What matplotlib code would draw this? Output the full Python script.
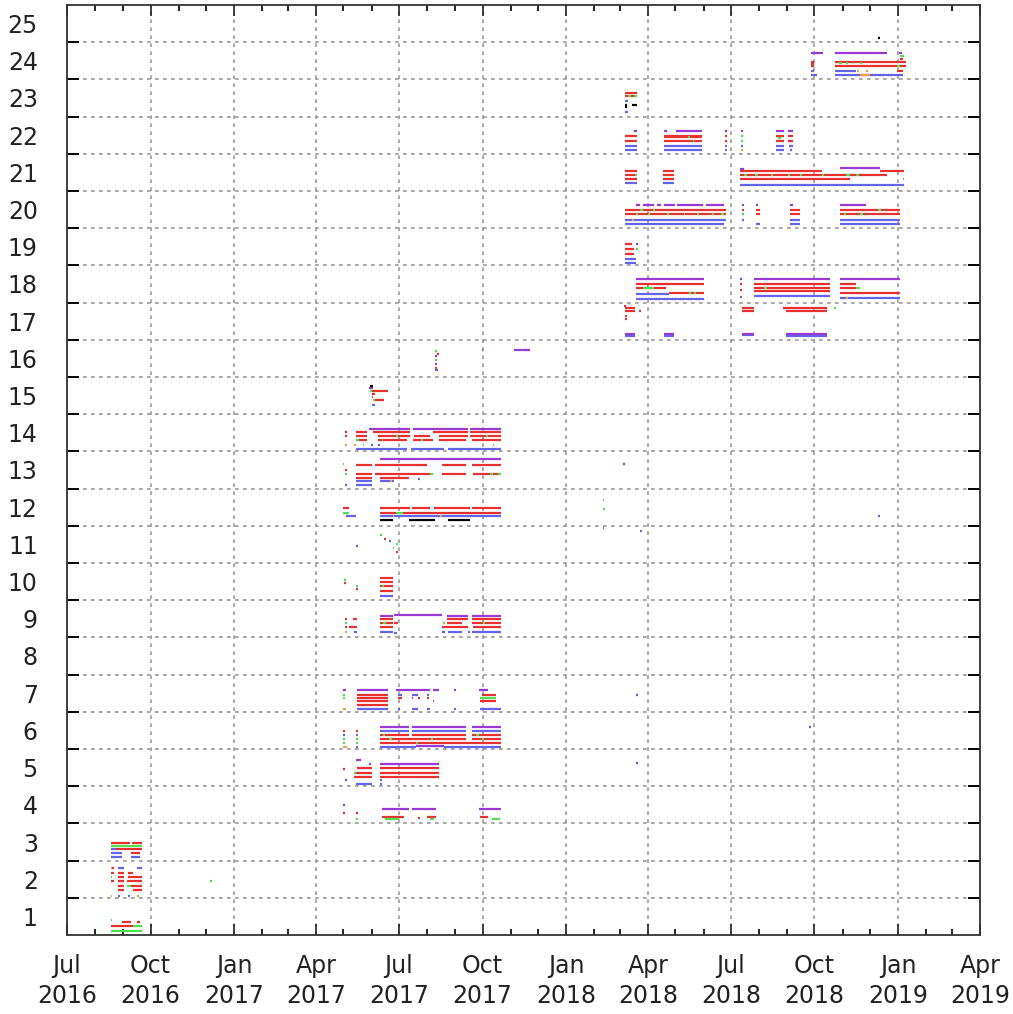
#!/usr/bin/env python3
"""Activity timeline: one band per channel (1-25), coloured runs over time."""

import matplotlib

matplotlib.use("Agg")
import matplotlib.dates as mdates
import matplotlib.pyplot as plt
import numpy as np
import pandas as pd

_RED = "#e8302f"
_GREEN = "#4fe04f"
_BLUE = "#6464ea"
_PURPLE = "#9a3ad6"
_ORANGE = "#f0a040"
_BLACK = "#000000"
_GRID = "#9a9a9a"

# (level, start, end) runs per colour
PURPLE_RUNS = [
    (3.99, "2017-05-01", "2017-05-03"), (3.88, "2017-06-12", "2017-07-12"),
    (3.88, "2017-07-15", "2017-08-11"), (3.88, "2017-09-27", "2017-10-21"),
    (5.20, "2017-05-15", "2017-05-20"), (5.09, "2017-05-29", "2017-05-31"),
    (5.09, "2017-06-10", "2017-08-14"),
    (6.10, "2017-06-10", "2017-07-12"), (6.10, "2017-07-15", "2017-09-13"),
    (6.10, "2017-09-19", "2017-10-21"), (5.58, "2017-07-20", "2017-08-20"),
    (7.08, "2017-04-30", "2017-05-04"), (7.08, "2017-05-16", "2017-06-19"),
    (7.08, "2017-06-28", "2017-08-04"), (7.08, "2017-08-07", "2017-08-14"),
    (7.08, "2017-08-31", "2017-09-02"), (7.08, "2017-09-27", "2017-10-07"),
    (6.95, "2018-03-19", "2018-03-21"), (5.12, "2018-03-19", "2018-03-21"),
    (6.10, "2018-09-25", "2018-09-27"),
    (9.08, "2017-06-10", "2017-06-24"), (9.10, "2017-06-26", "2017-08-17"),
    (9.08, "2017-08-23", "2017-09-15"), (9.08, "2017-09-19", "2017-10-21"),
    (13.30, "2017-06-10", "2017-10-21"),
    (14.10, "2017-05-29", "2017-07-13"), (14.10, "2017-07-16", "2017-09-15"),
    (14.10, "2017-09-17", "2017-10-21"),
    (15.20, "2017-05-29", "2017-06-03"),
    (16.07, "2017-08-10", "2017-08-12"), (15.85, "2017-08-10", "2017-08-12"),
    (16.22, "2017-09-30", "2017-10-02"), (16.22, "2017-11-05", "2017-11-12"),
    (16.22, "2017-11-15", "2017-11-22"),
    (16.66, "2018-03-07", "2018-03-18"), (16.66, "2018-04-18", "2018-04-30"),
    (16.66, "2018-07-13", "2018-07-27"), (16.66, "2018-08-31", "2018-10-15"),
    (18.14, "2018-03-19", "2018-06-02"), (18.14, "2018-07-11", "2018-07-13"),
    (18.14, "2018-07-27", "2018-10-18"), (18.14, "2018-10-29", "2019-01-03"),
    (19.08, "2018-03-19", "2018-03-21"),
    (20.11, "2018-03-19", "2018-03-23"), (20.11, "2018-03-26", "2018-04-08"),
    (20.11, "2018-04-11", "2018-04-15"), (20.11, "2018-04-19", "2018-05-01"),
    (20.11, "2018-05-03", "2018-05-31"), (20.11, "2018-06-04", "2018-06-24"),
    (20.11, "2018-07-13", "2018-07-15"), (20.11, "2018-07-29", "2018-07-31"),
    (20.11, "2018-09-04", "2018-09-07"), (20.11, "2018-10-29", "2018-11-27"),
    (21.10, "2018-07-11", "2018-07-16"), (21.12, "2018-10-29", "2018-12-12"),
    (22.12, "2018-03-17", "2018-03-20"), (22.12, "2018-04-18", "2018-04-22"),
    (22.12, "2018-05-02", "2018-05-30"), (22.12, "2018-06-25", "2018-06-27"),
    (22.12, "2018-07-12", "2018-07-14"), (22.12, "2018-08-20", "2018-08-29"),
    (22.12, "2018-09-02", "2018-09-07"),
    (24.20, "2018-09-27", "2018-10-10"), (24.20, "2018-10-24", "2018-12-20"),
    (24.20, "2019-01-02", "2019-01-05"),
]

RED_RUNS = [
    (0.84, "2016-08-31", "2016-09-09"), (0.84, "2016-09-16", "2016-09-19"),
    (0.74, "2016-08-18", "2016-09-12"),
    (2.30, "2016-08-20", "2016-08-22"),
    (2.16, "2016-08-18", "2016-08-22"), (2.16, "2016-08-26", "2016-09-02"),
    (2.16, "2016-09-06", "2016-09-12"),
    (2.06, "2016-08-26", "2016-09-02"), (2.06, "2016-09-06", "2016-09-22"),
    (1.95, "2016-08-18", "2016-08-22"), (1.95, "2016-08-26", "2016-09-02"),
    (1.95, "2016-09-05", "2016-09-22"),
    (1.82, "2016-08-26", "2016-09-02"), (1.82, "2016-09-09", "2016-09-22"),
    (1.71, "2016-08-26", "2016-09-02"), (1.71, "2016-09-12", "2016-09-22"),
    (2.98, "2016-08-18", "2016-09-08"), (2.98, "2016-09-11", "2016-09-22"),
    (2.81, "2016-08-24", "2016-09-22"), (2.71, "2016-09-09", "2016-09-19"),
    (3.77, "2017-05-01", "2017-05-03"), (3.77, "2017-05-15", "2017-05-17"),
    (3.67, "2017-06-12", "2017-07-07"), (3.65, "2017-07-22", "2017-07-24"),
    (3.67, "2017-08-01", "2017-08-11"), (3.67, "2017-09-28", "2017-10-07"),
    (4.95, "2017-05-01", "2017-05-03"),
    (4.98, "2017-05-16", "2017-06-01"), (4.98, "2017-06-10", "2017-08-14"),
    (4.85, "2017-05-13", "2017-06-01"), (4.85, "2017-06-10", "2017-08-14"),
    (4.76, "2017-05-13", "2017-06-01"), (4.76, "2017-06-10", "2017-08-14"),
    (5.98, "2017-05-01", "2017-05-03"), (5.98, "2017-05-15", "2017-05-17"),
    (5.88, "2017-06-10", "2017-07-12"), (5.88, "2017-07-15", "2017-09-13"),
    (5.88, "2017-09-19", "2017-10-21"),
    (5.77, "2017-06-10", "2017-09-13"), (5.77, "2017-09-19", "2017-10-21"),
    (5.66, "2017-06-10", "2017-10-21"),
    (6.95, "2017-05-16", "2017-06-19"), (6.87, "2017-05-16", "2017-06-19"),
    (6.79, "2017-05-16", "2017-06-19"), (6.68, "2017-05-16", "2017-06-19"),
    (6.87, "2017-06-30", "2017-07-04"), (6.87, "2017-07-15", "2017-07-17"),
    (6.87, "2017-07-22", "2017-07-24"), (6.87, "2017-08-01", "2017-08-03"),
    (6.79, "2017-08-07", "2017-08-09"),
    (6.95, "2017-09-30", "2017-10-16"), (6.79, "2017-09-28", "2017-10-16"),
    (9.00, "2017-05-03", "2017-05-05"), (9.00, "2017-05-11", "2017-05-16"),
    (9.00, "2017-06-10", "2017-06-24"), (9.00, "2017-08-23", "2017-09-15"),
    (9.00, "2017-09-19", "2017-10-21"),
    (8.90, "2017-06-10", "2017-06-24"), (8.90, "2017-06-26", "2017-06-30"),
    (8.90, "2017-08-23", "2017-09-08"), (8.90, "2017-09-19", "2017-10-21"),
    (8.78, "2017-05-03", "2017-05-05"), (8.78, "2017-05-07", "2017-05-16"),
    (8.78, "2017-06-10", "2017-06-24"), (8.78, "2017-08-17", "2017-09-15"),
    (8.78, "2017-09-21", "2017-10-21"),
    (9.95, "2017-05-02", "2017-05-04"), (9.80, "2017-05-15", "2017-05-17"),
    (10.10, "2017-06-10", "2017-06-24"), (9.98, "2017-06-10", "2017-06-24"),
    (9.88, "2017-06-10", "2017-06-24"), (9.75, "2017-06-10", "2017-06-24"),
    (11.15, "2017-06-15", "2017-06-17"), (10.80, "2017-06-28", "2017-06-30"),
    (11.45, "2018-02-10", "2018-02-12"),
    (11.98, "2017-04-30", "2017-05-07"), (11.98, "2017-06-10", "2017-07-13"),
    (11.98, "2017-07-15", "2017-08-04"), (11.98, "2017-08-09", "2017-09-17"),
    (11.98, "2017-09-19", "2017-10-21"),
    (11.85, "2017-06-10", "2017-06-28"), (11.85, "2017-07-05", "2017-10-21"),
    (13.14, "2017-05-15", "2017-06-01"), (13.14, "2017-06-05", "2017-08-01"),
    (13.14, "2017-08-17", "2017-09-13"), (13.14, "2017-09-19", "2017-10-21"),
    (13.00, "2017-05-03", "2017-05-05"),
    (12.90, "2017-05-15", "2017-06-01"), (12.90, "2017-06-05", "2017-08-04"),
    (12.90, "2017-08-17", "2017-09-13"), (12.90, "2017-09-21", "2017-10-21"),
    (12.79, "2017-05-15", "2017-06-01"), (12.79, "2017-06-10", "2017-07-12"),
    (13.15, "2018-03-05", "2018-03-07"),
    (14.03, "2017-05-03", "2017-05-05"), (14.03, "2017-05-15", "2017-05-27"),
    (14.03, "2017-06-02", "2017-07-13"), (14.03, "2017-08-07", "2017-09-15"),
    (14.03, "2017-09-17", "2017-10-21"),
    (13.92, "2017-05-03", "2017-05-05"), (13.92, "2017-05-15", "2017-05-27"),
    (13.92, "2017-06-08", "2017-07-13"), (13.92, "2017-07-18", "2017-08-04"),
    (13.92, "2017-08-14", "2017-09-15"), (13.92, "2017-09-17", "2017-10-21"),
    (13.81, "2017-05-15", "2017-05-27"), (13.81, "2017-06-08", "2017-07-10"),
    (13.81, "2017-07-16", "2017-08-07"), (13.81, "2017-08-14", "2017-09-13"),
    (13.81, "2017-09-19", "2017-10-21"),
    (15.13, "2017-06-01", "2017-06-19"), (15.05, "2017-06-01", "2017-06-05"),
    (14.95, "2017-06-01", "2017-06-03"), (14.87, "2017-06-05", "2017-06-15"),
    (16.12, "2017-08-12", "2017-08-14"), (15.75, "2017-08-10", "2017-08-12"),
    (17.42, "2018-03-06", "2018-03-08"), (17.35, "2018-03-07", "2018-03-18"),
    (17.28, "2018-03-07", "2018-03-18"), (17.15, "2018-03-07", "2018-03-09"),
    (17.05, "2018-03-07", "2018-03-09"), (17.28, "2018-03-22", "2018-03-24"),
    (17.35, "2018-07-13", "2018-07-27"), (17.28, "2018-07-13", "2018-07-27"),
    (17.35, "2018-08-27", "2018-10-15"), (17.28, "2018-08-31", "2018-10-15"),
    (18.01, "2018-03-19", "2018-06-02"), (17.90, "2018-03-19", "2018-04-21"),
    (17.77, "2018-04-24", "2018-06-02"),
    (18.00, "2018-07-11", "2018-07-13"), (17.85, "2018-07-11", "2018-07-13"),
    (18.01, "2018-07-27", "2018-10-18"), (17.90, "2018-07-27", "2018-10-18"),
    (17.80, "2018-07-27", "2018-10-18"),
    (18.01, "2018-10-29", "2018-11-16"), (17.90, "2018-10-29", "2018-11-16"),
    (17.77, "2018-10-29", "2019-01-03"),
    (19.08, "2018-03-07", "2018-03-14"), (18.95, "2018-03-07", "2018-03-17"),
    (18.81, "2018-03-07", "2018-03-17"),
    (20.00, "2018-03-07", "2018-06-26"), (19.89, "2018-03-07", "2018-06-26"),
    (20.00, "2018-07-13", "2018-07-15"), (19.89, "2018-07-13", "2018-07-15"),
    (20.00, "2018-07-29", "2018-08-02"), (19.89, "2018-07-29", "2018-08-02"),
    (20.00, "2018-09-04", "2018-09-15"), (19.89, "2018-09-04", "2018-09-15"),
    (20.00, "2018-10-29", "2019-01-03"), (19.89, "2018-10-29", "2019-01-03"),
    (21.05, "2018-03-07", "2018-03-20"), (20.94, "2018-03-07", "2018-03-20"),
    (20.81, "2018-03-07", "2018-03-20"),
    (21.05, "2018-04-17", "2018-04-30"), (20.94, "2018-04-17", "2018-04-30"),
    (20.81, "2018-04-17", "2018-04-30"),
    (21.05, "2018-07-11", "2018-10-09"), (21.05, "2018-12-12", "2019-01-08"),
    (20.94, "2018-07-11", "2018-12-20"), (20.81, "2018-07-11", "2018-11-09"),
    (21.99, "2018-03-07", "2018-03-20"), (21.99, "2018-04-18", "2018-05-30"),
    (21.94, "2018-04-18", "2018-05-30"),
    (21.83, "2018-03-07", "2018-03-20"), (21.83, "2018-04-18", "2018-05-30"),
    (21.99, "2018-06-25", "2018-06-27"), (21.83, "2018-06-25", "2018-06-27"),
    (21.99, "2018-08-20", "2018-08-29"), (21.83, "2018-08-20", "2018-08-29"),
    (21.99, "2018-09-02", "2018-09-07"), (21.83, "2018-09-02", "2018-09-07"),
    (23.14, "2018-03-07", "2018-03-20"), (23.04, "2018-03-07", "2018-03-20"),
    (24.05, "2019-01-03", "2019-01-06"),
    (23.98, "2018-09-27", "2018-10-01"), (23.98, "2018-10-24", "2019-01-10"),
    (23.92, "2018-09-27", "2018-10-01"),
    (23.85, "2018-09-27", "2018-10-01"), (23.85, "2018-10-24", "2019-01-10"),
    (23.72, "2018-12-31", "2019-01-06"),
]

GREEN_RUNS = [
    (0.90, "2016-08-18", "2016-08-20"), (0.74, "2016-09-12", "2016-09-22"),
    (0.61, "2016-08-18", "2016-09-22"),
    (2.06, "2016-08-18", "2016-08-20"), (1.82, "2016-09-05", "2016-09-09"),
    (1.95, "2016-12-05", "2016-12-07"),
    (2.89, "2016-08-18", "2016-09-22"),
    (3.63, "2017-05-15", "2017-05-17"), (3.63, "2017-06-16", "2017-07-01"),
    (3.63, "2017-08-04", "2017-08-09"), (3.63, "2017-10-11", "2017-10-20"),
    (4.85, "2017-05-13", "2017-05-15"),
    (5.77, "2017-05-01", "2017-05-03"), (5.77, "2017-05-15", "2017-05-17"),
    (5.66, "2017-05-01", "2017-05-03"), (5.66, "2017-05-15", "2017-05-17"),
    (5.77, "2017-06-20", "2017-06-23"), (5.77, "2017-08-05", "2017-08-08"),
    (5.88, "2017-06-14", "2017-06-16"), (5.88, "2017-09-24", "2017-09-27"),
    (5.66, "2017-07-20", "2017-07-22"), (5.77, "2017-09-30", "2017-10-03"),
    (6.95, "2017-05-01", "2017-05-03"), (6.87, "2017-05-01", "2017-05-03"),
    (6.87, "2017-09-28", "2017-10-16"),
    (8.90, "2017-05-03", "2017-05-05"), (8.90, "2017-08-19", "2017-08-21"),
    (8.90, "2017-10-01", "2017-10-04"), (8.90, "2017-06-14", "2017-06-17"),
    (10.05, "2017-05-02", "2017-05-04"), (9.89, "2017-05-15", "2017-05-17"),
    (9.88, "2017-06-12", "2017-06-15"),
    (11.25, "2017-06-10", "2017-06-12"), (10.90, "2017-06-24", "2017-06-26"),
    (11.00, "2017-06-28", "2017-06-30"),
    (12.20, "2018-02-10", "2018-02-12"), (11.95, "2018-02-11", "2018-02-13"),
    (11.85, "2017-04-30", "2017-05-07"), (11.85, "2017-06-28", "2017-07-05"),
    (13.17, "2017-04-30", "2017-05-02"),
    (12.90, "2017-05-03", "2017-05-05"), (12.90, "2017-08-04", "2017-08-07"),
    (12.90, "2017-10-09", "2017-10-12"), (12.90, "2017-10-18", "2017-10-21"),
    (13.92, "2017-06-28", "2017-06-30"), (13.92, "2017-10-05", "2017-10-07"),
    (13.81, "2017-05-15", "2017-05-18"), (13.81, "2017-07-25", "2017-07-27"),
    (13.81, "2017-06-12", "2017-06-14"),
    (15.13, "2017-05-30", "2017-06-01"), (14.88, "2017-06-03", "2017-06-05"),
    (16.20, "2017-08-10", "2017-08-12"), (15.95, "2017-08-10", "2017-08-12"),
    (17.35, "2018-10-23", "2018-10-25"),
    (17.90, "2018-03-26", "2018-04-08"), (17.77, "2018-05-16", "2018-05-18"),
    (17.77, "2018-05-22", "2018-05-24"), (17.90, "2018-08-06", "2018-08-10"),
    (17.90, "2018-11-16", "2018-11-20"),
    (18.95, "2018-03-19", "2018-03-21"),
    (19.89, "2018-03-19", "2018-03-21"), (19.89, "2018-04-01", "2018-04-03"),
    (19.89, "2018-04-22", "2018-04-24"), (19.89, "2018-05-10", "2018-05-12"),
    (19.89, "2018-05-25", "2018-05-27"), (19.89, "2018-06-10", "2018-06-12"),
    (19.89, "2018-06-20", "2018-06-23"), (20.00, "2018-03-23", "2018-03-26"),
    (20.00, "2018-04-06", "2018-04-09"), (19.89, "2018-07-13", "2018-07-15"),
    (19.89, "2018-11-02", "2018-11-05"), (19.89, "2018-11-20", "2018-11-23"),
    (20.00, "2018-12-10", "2018-12-13"),
    (20.94, "2018-03-18", "2018-03-20"),
    (20.81, "2019-01-06", "2019-01-08"),
    (20.94, "2018-07-16", "2018-07-19"), (20.94, "2018-07-28", "2018-07-31"),
    (20.94, "2018-08-14", "2018-08-16"), (20.94, "2018-09-02", "2018-09-04"),
    (20.94, "2018-09-15", "2018-09-17"), (20.94, "2018-10-09", "2018-10-12"),
    (20.94, "2018-11-05", "2018-11-09"), (20.94, "2018-11-16", "2018-11-19"),
    (21.96, "2018-05-15", "2018-05-17"), (21.83, "2018-05-20", "2018-05-22"),
    (21.99, "2018-07-12", "2018-07-14"), (21.83, "2018-07-12", "2018-07-14"),
    (21.92, "2018-08-22", "2018-08-25"),
    (23.04, "2018-03-10", "2018-03-13"), (23.04, "2018-03-17", "2018-03-20"),
    (24.14, "2019-01-03", "2019-01-08"),
    (23.95, "2018-10-28", "2018-10-31"), (23.95, "2018-11-05", "2018-11-07"),
    (23.95, "2018-11-12", "2018-11-14"), (23.95, "2018-11-20", "2018-11-22"),
    (23.85, "2018-12-31", "2019-01-03"),
]

BLUE_RUNS = [
    (2.30, "2016-08-26", "2016-09-02"), (2.30, "2016-09-16", "2016-09-22"),
    (1.55, "2016-08-26", "2016-08-28"), (1.55, "2016-09-06", "2016-09-08"),
    (2.81, "2016-08-18", "2016-08-24"),
    (2.71, "2016-08-18", "2016-08-31"),
    (2.59, "2016-08-18", "2016-08-31"), (2.59, "2016-09-09", "2016-09-19"),
    (4.68, "2017-05-03", "2017-05-05"), (4.68, "2017-06-10", "2017-06-12"),
    (4.57, "2017-05-15", "2017-06-01"), (4.57, "2017-06-10", "2017-06-12"),
    (5.98, "2017-06-10", "2017-07-12"), (5.98, "2017-07-15", "2017-09-13"),
    (5.98, "2017-09-19", "2017-10-21"),
    (5.88, "2017-05-01", "2017-05-03"), (5.88, "2017-05-15", "2017-05-17"),
    (5.56, "2017-06-10", "2017-07-20"), (5.56, "2017-08-20", "2017-10-21"),
    (5.56, "2017-05-15", "2017-05-17"),
    (6.95, "2017-06-30", "2017-07-04"), (6.95, "2017-07-15", "2017-07-22"),
    (6.95, "2017-08-01", "2017-08-03"),
    (6.57, "2017-05-16", "2017-06-19"), (6.57, "2017-06-30", "2017-07-02"),
    (6.57, "2017-07-15", "2017-07-22"), (6.57, "2017-08-01", "2017-08-04"),
    (6.57, "2017-08-31", "2017-09-02"), (6.57, "2017-09-28", "2017-10-21"),
    (8.64, "2017-05-13", "2017-05-16"), (8.64, "2017-06-10", "2017-06-24"),
    (8.62, "2017-06-26", "2017-06-29"), (8.64, "2017-08-17", "2017-08-21"),
    (8.64, "2017-08-24", "2017-09-08"), (8.64, "2017-09-15", "2017-09-17"),
    (8.64, "2017-09-19", "2017-10-21"),
    (9.62, "2017-06-10", "2017-06-24"),
    (10.95, "2017-05-15", "2017-05-17"), (11.10, "2017-06-20", "2017-06-22"),
    (11.35, "2018-03-23", "2018-03-25"),
    (11.76, "2017-05-04", "2017-05-15"), (11.76, "2017-06-10", "2017-10-21"),
    (11.75, "2018-12-10", "2018-12-12"),
    (12.71, "2017-05-15", "2017-06-01"), (12.71, "2017-06-10", "2017-06-26"),
    (12.75, "2017-07-22", "2017-07-24"),
    (12.60, "2017-05-03", "2017-05-05"), (12.60, "2017-05-15", "2017-06-01"),
    (13.68, "2017-05-31", "2017-06-02"), (13.68, "2017-06-08", "2017-06-10"),
    (13.57, "2017-05-15", "2017-07-10"), (13.57, "2017-07-14", "2017-08-20"),
    (13.57, "2017-08-24", "2017-10-21"),
    (14.75, "2017-06-01", "2017-06-05"),
    (15.70, "2017-08-10", "2017-08-13"), (16.22, "2017-11-12", "2017-11-15"),
    (16.60, "2018-03-07", "2018-03-18"), (16.60, "2018-04-18", "2018-04-30"),
    (16.62, "2018-07-13", "2018-07-27"), (16.60, "2018-08-31", "2018-10-15"),
    (17.72, "2018-03-19", "2018-04-24"),
    (17.60, "2018-03-19", "2018-06-02"), (17.65, "2018-07-11", "2018-07-13"),
    (17.68, "2018-07-27", "2018-10-18"), (17.62, "2018-10-29", "2019-01-03"),
    (18.68, "2018-03-07", "2018-03-19"), (18.57, "2018-03-07", "2018-03-19"),
    (19.73, "2018-03-07", "2018-06-26"), (19.62, "2018-03-07", "2018-06-24"),
    (19.73, "2018-07-13", "2018-07-15"), (19.62, "2018-07-29", "2018-08-02"),
    (19.73, "2018-09-04", "2018-09-15"), (19.62, "2018-09-04", "2018-09-15"),
    (19.73, "2018-10-29", "2019-01-03"), (19.62, "2018-10-29", "2019-01-03"),
    (20.72, "2018-03-07", "2018-03-20"), (20.72, "2018-04-17", "2018-04-30"),
    (20.67, "2018-07-11", "2019-01-08"),
    (21.70, "2018-03-07", "2018-03-20"), (21.70, "2018-04-18", "2018-05-30"),
    (21.59, "2018-03-07", "2018-03-20"), (21.59, "2018-04-18", "2018-05-30"),
    (21.70, "2018-06-25", "2018-06-27"), (21.70, "2018-07-12", "2018-07-14"),
    (21.70, "2018-08-20", "2018-08-29"), (21.70, "2018-09-03", "2018-09-07"),
    (21.59, "2018-06-25", "2018-06-27"), (21.59, "2018-08-20", "2018-08-29"),
    (21.59, "2018-09-04", "2018-09-06"),
    (22.91, "2018-03-07", "2018-03-10"), (22.62, "2018-03-07", "2018-03-10"),
    (23.72, "2018-09-27", "2018-10-01"), (23.72, "2018-10-24", "2018-11-16"),
    (23.63, "2018-09-27", "2018-10-04"), (23.63, "2018-10-24", "2019-01-06"),
]

ORANGE_RUNS = [
    (2.30, "2016-08-18", "2016-08-20"),
    (1.55, "2016-08-18", "2016-08-20"), (1.55, "2016-09-16", "2016-09-18"),
    (5.56, "2017-05-01", "2017-05-05"), (6.57, "2017-05-01", "2017-05-04"),
    (8.64, "2017-05-03", "2017-05-05"),
    (11.76, "2017-06-24", "2017-06-26"), (11.76, "2017-08-15", "2017-08-17"),
    (12.71, "2017-06-21", "2017-06-23"),
    (13.68, "2017-05-03", "2017-05-05"), (13.68, "2017-05-13", "2017-05-15"),
    (13.68, "2017-05-22", "2017-05-24"), (13.68, "2017-10-12", "2017-10-14"),
    (19.73, "2018-03-14", "2018-03-16"), (21.59, "2018-07-12", "2018-07-14"),
    (17.62, "2018-11-05", "2018-11-07"),
    (23.72, "2018-11-17", "2018-11-19"), (23.72, "2018-11-27", "2018-11-29"),
    (23.63, "2018-11-20", "2018-12-01"),
]

BLACK_RUNS = [
    (11.65, "2017-06-10", "2017-06-24"), (11.65, "2017-07-12", "2017-08-10"),
    (11.65, "2017-08-24", "2017-09-17"),
    (15.25, "2017-05-30", "2017-06-03"),
    (22.80, "2018-03-07", "2018-03-09"), (22.80, "2018-03-14", "2018-03-20"),
    (22.75, "2018-03-07", "2018-03-09"),
    (24.60, "2018-12-10", "2018-12-12"),
]

CHANNELS = list(range(1, 26))
X_RANGE = ("2016-07-01", "2019-04-01")


def draw_runs(ax, runs, color):
    y = [r[0] for r in runs]
    x0 = pd.to_datetime([r[1] for r in runs])
    x1 = pd.to_datetime([r[2] for r in runs])
    ax.hlines(y, x0, x1, colors=color, linewidth=1.6, capstyle="butt")


fig = plt.figure(figsize=(10.13, 10.14), dpi=100)
ax = fig.add_axes([0.0661, 0.0779, 0.9013, 0.9172])

draw_runs(ax, BLUE_RUNS, _BLUE)
draw_runs(ax, RED_RUNS, _RED)
draw_runs(ax, PURPLE_RUNS, _PURPLE)
draw_runs(ax, GREEN_RUNS, _GREEN)
draw_runs(ax, ORANGE_RUNS, _ORANGE)
draw_runs(ax, BLACK_RUNS, _BLACK)

ax.set_xlim(pd.Timestamp(X_RANGE[0]), pd.Timestamp(X_RANGE[1]))
ax.set_ylim(0.5, 25.5)

# x: quarters labelled, months as small ticks
ax.xaxis.set_major_locator(mdates.MonthLocator(bymonth=[1, 4, 7, 10]))
ax.xaxis.set_minor_locator(mdates.MonthLocator())
ax.xaxis.set_major_formatter(mdates.DateFormatter("%b\n%Y"))

# y: labels on the integers, ticks + grid on the half steps
ax.set_yticks(CHANNELS)
ax.set_yticks(np.arange(1.5, 25.0, 1.0), minor=True)

ax.tick_params(axis="x", which="major", direction="in", length=8, width=1.2,
               top=True, pad=14, labelsize=17, colors="#222222")
ax.tick_params(axis="x", which="minor", direction="in", length=4, width=1.2,
               top=True)
ax.tick_params(axis="y", which="major", length=0, pad=21, labelsize=17,
               colors="#222222")
ax.tick_params(axis="y", which="minor", direction="in", length=8.5, width=1.4,
               right=True)
plt.setp(ax.get_xticklabels(), linespacing=1.3)

ax.grid(True, axis="x", which="major", color=_GRID, linestyle=(0, (2.2, 2.6)),
        linewidth=1.2)
ax.grid(True, axis="y", which="minor", color=_GRID, linestyle=(0, (2.2, 2.6)),
        linewidth=1.2)
ax.set_axisbelow(True)

for spine in ax.spines.values():
    spine.set_linewidth(1.3)
    spine.set_color("#333333")

fig.savefig("out.png", dpi=100, facecolor="white")
